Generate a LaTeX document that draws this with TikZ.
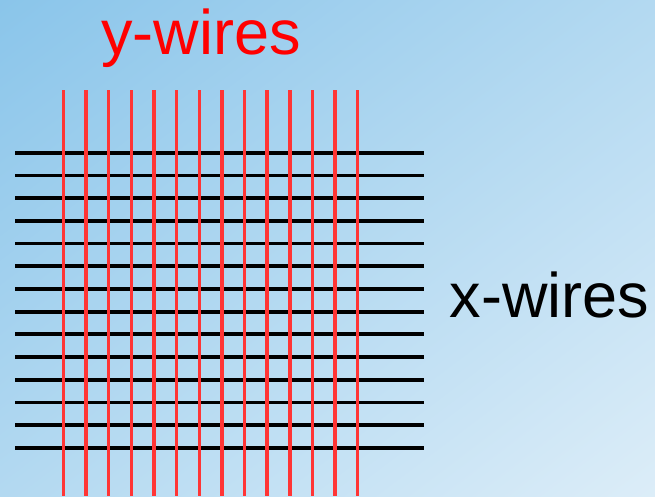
\documentclass[tikz,border=0pt]{standalone}
\usepackage{fontspec}
\setmainfont{Liberation Sans}
\usepackage{xcolor}
\usetikzlibrary{shadings}
\definecolor{bgDark}{HTML}{8AC5EA}
\definecolor{bgMid}{HTML}{B3D9F1}
\definecolor{bgLight}{HTML}{DCEDF8}
\definecolor{wireRed}{HTML}{FF3535}

\begin{document}
\begin{tikzpicture}[
  x=1pt, y=-1pt,
  xwire/.style={draw=black, line width=3.8pt},
  ywire/.style={draw=wireRed, line width=3.4pt},
  wlabel/.style={font=\fontsize{63}{70}\selectfont, inner sep=0pt, anchor=base},
]

% ── Background ───────────────────────────────────────────────
\useasboundingbox (0,0) rectangle (655,496);
\shade[upper left=bgDark, upper right=bgMid, lower left=bgMid, lower right=bgLight]
  (0,0) rectangle (655,496);

% ── x-wires (black, horizontal) ──────────────────────────────
\foreach \i in {0,...,13}{
  \draw[xwire] (15,152.7+22.7*\i) -- (424,152.7+22.7*\i);
}

% ── y-wires (red, vertical, on top) ──────────────────────────
\foreach \i in {0,...,13}{
  \draw[ywire] (63.3+22.65*\i,90) -- (63.3+22.65*\i,496);
}

% ── Labels ───────────────────────────────────────────────────
\node[wlabel, text=red] (ylabel) at (201,54) {y-wires};
\node[wlabel, text=black] (xlabel) at (549.5,317) {x-wires};

\end{tikzpicture}
\end{document}
